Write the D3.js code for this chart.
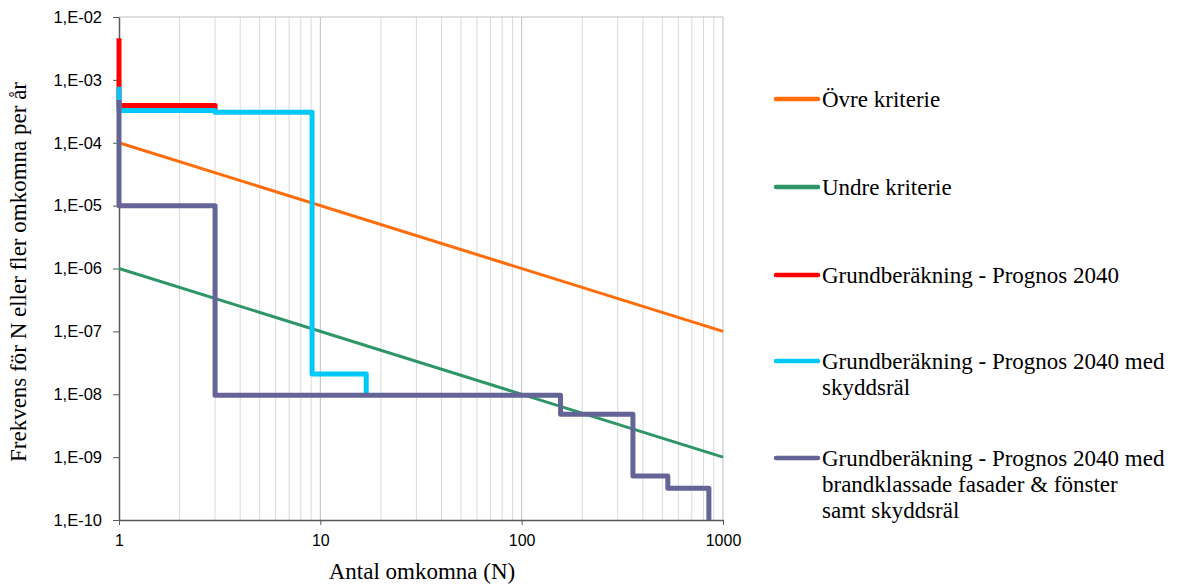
<!DOCTYPE html>
<html>
<head>
<meta charset="utf-8">
<script src="https://cdn.jsdelivr.net/npm/d3@7"></script>
<style>
  body { margin: 0; background: #fff; }
  svg { display: block; }
</style>
</head>
<body>
<svg id="chart" width="1182" height="587"></svg>
<script>
// F/N curves: frequency of N or more fatalities per year
const xTicks = [1, 10, 100, 1000];
const yTicks = [1e-2, 1e-3, 1e-4, 1e-5, 1e-6, 1e-7, 1e-8, 1e-9, 1e-10];
const yTickLabels = ["1,E-02", "1,E-03", "1,E-04", "1,E-05", "1,E-06", "1,E-07", "1,E-08", "1,E-09", "1,E-10"];

// Risk criteria (straight lines on log-log axes)
const ovreN = [1, 1000];
const ovreF = [1e-4, 1e-7];
const undreN = [1, 1000];
const undreF = [1e-6, 1e-9];

// Step curves: N values and frequencies
const grundN = [1, 1, 3, 3];
const grundF = [4.6e-3, 3.9e-4, 3.9e-4, 3.1e-4];

const skyddN = [1, 1, 3, 3, 9.1, 9.1, 16.9, 16.9];
const skyddF = [7.8e-4, 3.26e-4, 3.26e-4, 3.05e-4, 3.05e-4, 2.1e-8, 2.1e-8, 9.6e-9];

const brandN = [1, 1, 3, 3, 156, 156, 357, 357, 532, 532, 851, 851];
const brandF = [4.8e-4, 1e-5, 1e-5, 9.6e-9, 9.6e-9, 4.8e-9, 4.8e-9, 5e-10, 5e-10, 3.2e-10, 3.2e-10, 1e-10];

const seriesNames = [
  ["Övre kriterie"],
  ["Undre kriterie"],
  ["Grundberäkning - Prognos 2040"],
  ["Grundberäkning - Prognos 2040 med", "skyddsräl"],
  ["Grundberäkning - Prognos 2040 med", "brandklassade fasader & fönster", "samt skyddsräl"]
];
const colors = ["#ff6d0b", "#2e9566", "#ff0000", "#00c8f8", "#646496"];

const series = [
  { N: ovreN, F: ovreF, w: 3 },
  { N: undreN, F: undreF, w: 3 },
  { N: grundN, F: grundF, w: 5 },
  { N: skyddN, F: skyddF, w: 5 },
  { N: brandN, F: brandF, w: 5 }
];

const svg = d3.select("#chart");
const mLeft = 119, mRight = 723, mTop = 17, mBottom = 520;

const x = d3.scaleLog().domain([1, 1000]).range([mLeft, mRight]);
const y = d3.scaleLog().domain([1e-10, 1e-2]).range([mBottom, mTop]);

// Minor vertical grid lines (2..9 in each decade)
const minor = [];
for (let d = 1; d < 1000; d *= 10) {
  for (let k = 2; k <= 9; k++) minor.push(d * k);
}
svg.append("g").selectAll("line").data(minor).join("line")
  .attr("x1", d => x(d)).attr("x2", d => x(d))
  .attr("y1", mTop).attr("y2", mBottom)
  .attr("stroke", "#d9d9d9").attr("stroke-width", 1);

// Major vertical grid lines and top border
svg.append("g").selectAll("line").data([10, 100, 1000]).join("line")
  .attr("x1", d => x(d)).attr("x2", d => x(d))
  .attr("y1", mTop).attr("y2", mBottom)
  .attr("stroke", "#bfbfbf").attr("stroke-width", 1);
svg.append("line")
  .attr("x1", mLeft).attr("x2", mRight).attr("y1", mTop).attr("y2", mTop)
  .attr("stroke", "#bfbfbf").attr("stroke-width", 1);

// Axes
const xAxis = d3.axisBottom(x).tickValues(xTicks).tickFormat(d3.format("d")).tickSize(5).tickSizeOuter(0);
const gx = svg.append("g").attr("transform", `translate(0,${mBottom})`).call(xAxis);
gx.select(".domain").attr("stroke", "#595959").attr("stroke-width", 1.5);
gx.selectAll(".tick line").attr("stroke", "#595959");
gx.selectAll(".tick text")
  .attr("font-family", "Liberation Sans, Arial, sans-serif")
  .attr("font-size", 16).attr("fill", "#000").attr("y", 15).attr("dy", "0.71em");

const yAxis = d3.axisLeft(y).tickValues(yTicks)
  .tickFormat((d, i) => yTickLabels[i]).tickSize(6).tickSizeOuter(0);
const gy = svg.append("g").attr("transform", `translate(${mLeft},0)`).call(yAxis);
gy.select(".domain").attr("stroke", "#595959").attr("stroke-width", 1.5);
gy.selectAll(".tick line").attr("stroke", "#595959");
gy.selectAll(".tick text")
  .attr("font-family", "Liberation Sans, Arial, sans-serif")
  .attr("font-size", 16.5).attr("fill", "#000").attr("x", -17);

// Series lines
const line = d3.line().x(d => x(d[0])).y(d => y(d[1]));
series.forEach((s, i) => {
  const pts = s.N.map((n, j) => [n, s.F[j]]);
  svg.append("path")
    .attr("d", line(pts))
    .attr("fill", "none")
    .attr("stroke", colors[i])
    .attr("stroke-width", s.w)
    .attr("stroke-linejoin", "round");
});

// Axis titles
svg.append("text")
  .attr("x", 422).attr("y", 579)
  .attr("text-anchor", "middle")
  .attr("font-family", "Liberation Serif, Times New Roman, serif")
  .attr("font-size", 23)
  .text("Antal omkomna (N)");

svg.append("text")
  .attr("transform", "translate(26,272) rotate(-90)")
  .attr("text-anchor", "middle")
  .attr("font-family", "Liberation Serif, Times New Roman, serif")
  .attr("font-size", 23)
  .text("Frekvens för N eller fler omkomna per år");

// Legend
const legendY = [99, 187, 275, 361, 458];
const legend = svg.append("g");
seriesNames.forEach((lines, i) => {
  legend.append("line")
    .attr("x1", 776).attr("x2", 818)
    .attr("y1", legendY[i]).attr("y2", legendY[i])
    .attr("stroke", colors[i]).attr("stroke-width", 4.5)
    .attr("stroke-linecap", "round");
  const t = legend.append("text")
    .attr("x", 822).attr("y", legendY[i] + 8)
    .attr("font-family", "Liberation Serif, Times New Roman, serif")
    .attr("font-size", 23).attr("fill", "#000");
  lines.forEach((l, k) => {
    t.append("tspan").attr("x", 822).attr("dy", k === 0 ? 0 : 26).text(l);
  });
});
</script>
</body>
</html>
